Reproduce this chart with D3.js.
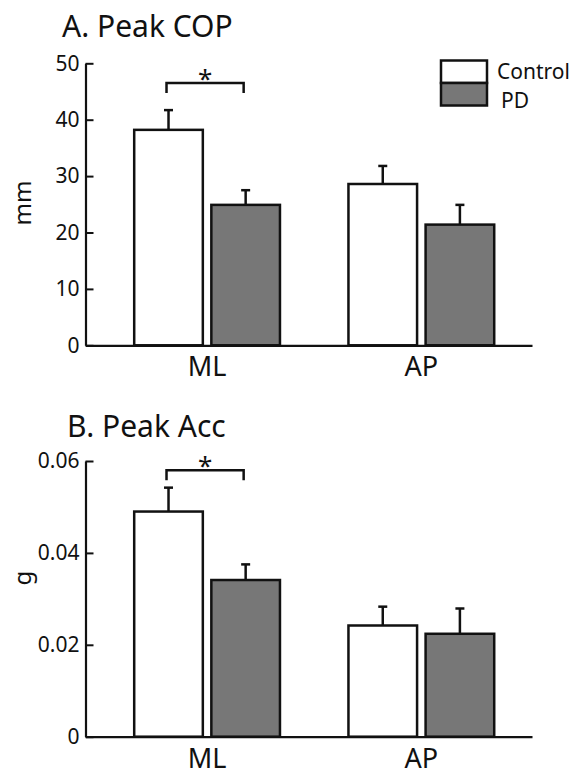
<!DOCTYPE html>
<html>
<head>
<meta charset="utf-8">
<script src="https://cdn.jsdelivr.net/npm/d3@7"></script>
<style>
  body { margin: 0; background: #fff; }
  svg { display: block; font-family: "Noto Sans", "Open Sans", sans-serif; }
</style>
</head>
<body>
<div id="chart"></div>
<script>
// categories and series
var groups = ["ML", "AP"];
var seriesNames = ["Control", "PD"];

// A. Peak COP (mm)
var copControl = [38.2, 28.6];
var copControlErr = [3.5, 3.2];
var copPD = [24.9, 21.4];
var copPDErr = [2.6, 3.5];
var copTicks = [0, 10, 20, 30, 40, 50];

// B. Peak Acc (g)
var accControl = [0.049, 0.0242];
var accControlErr = [0.0052, 0.0041];
var accPD = [0.0341, 0.0224];
var accPDErr = [0.0034, 0.0055];
var accTicks = [0, 0.02, 0.04, 0.06];

// significance bracket height (data units) for ML comparison
var sigLevels = [46.5, 0.058];

var svgWidth = 582;
var svgHeight = 775;
var axisX = 85.5;
var axisRight = 532;
var grey = "#777777";
var fills = { Control: "#ffffff", PD: grey };

var svg = d3.select("#chart")
  .append("svg")
  .attr("width", svgWidth)
  .attr("height", svgHeight);

// shared x scales
var x0 = d3.scaleBand()
  .domain(groups)
  .range([axisX, axisRight])
  .paddingInner(0.308)
  .paddingOuter(0.196)
  .align(0.565);

var x1 = d3.scaleBand()
  .domain(seriesNames)
  .range([0, x0.bandwidth()])
  .paddingInner(0.078);

function drawPanel(cfg) {
  var g = svg.append("g");

  var y = d3.scaleLinear()
    .domain([0, cfg.ticks[cfg.ticks.length - 1]])
    .range(cfg.yRange);

  var rows = [];
  groups.forEach(function(grp, i) {
    rows.push({ group: grp, series: "Control", value: cfg.control[i], err: cfg.controlErr[i] });
    rows.push({ group: grp, series: "PD", value: cfg.pd[i], err: cfg.pdErr[i] });
  });

  // title
  g.append("text")
    .attr("x", cfg.titleX)
    .attr("y", cfg.titleY)
    .attr("font-size", "30px")
    .attr("fill", "#111")
    .text(cfg.title);

  // error bars (drawn first, bars cover the lower part)
  var eb = g.append("g")
    .attr("stroke", "#111")
    .attr("stroke-width", 2.5);

  rows.forEach(function(d) {
    var cx = x0(d.group) + x1(d.series) + x1.bandwidth() / 2;
    eb.append("line")
      .attr("x1", cx).attr("x2", cx)
      .attr("y1", y(d.value)).attr("y2", y(d.value + d.err));
    eb.append("line")
      .attr("x1", cx - 4.5).attr("x2", cx + 4.5)
      .attr("y1", y(d.value + d.err)).attr("y2", y(d.value + d.err));
  });

  // bars
  g.append("g")
    .selectAll("rect")
    .data(rows)
    .enter()
    .append("rect")
    .attr("x", d => x0(d.group) + x1(d.series) + 1.25)
    .attr("width", x1.bandwidth() - 2.5)
    .attr("y", d => y(d.value))
    .attr("height", d => y(0) - y(d.value))
    .attr("fill", d => fills[d.series])
    .attr("stroke", "#111")
    .attr("stroke-width", 2.5);

  // y axis
  var leftAxis = d3.axisLeft(y)
    .tickValues(cfg.ticks)
    .tickFormat(cfg.format)
    .tickSizeInner(-8)
    .tickSizeOuter(0)
    .tickPadding(6);

  var ya = g.append("g")
    .attr("transform", `translate(${axisX}, 0)`)
    .call(leftAxis);
  ya.select(".domain").attr("stroke", "#111").attr("stroke-width", 2.2);
  ya.selectAll(".tick line").attr("stroke", "#111").attr("stroke-width", 2);
  ya.selectAll("text")
    .attr("font-size", "21px")
    .attr("font-family", "'Noto Sans', 'Open Sans', sans-serif")
    .attr("fill", "#111");

  // x axis
  var bottomAxis = d3.axisBottom(x0)
    .tickSize(0)
    .tickPadding(12);

  var xa = g.append("g")
    .attr("transform", `translate(0, ${y(0)})`)
    .call(bottomAxis);
  xa.select(".domain").attr("stroke", "#111").attr("stroke-width", 2.2);
  xa.selectAll("text")
    .attr("font-size", "27px")
    .attr("font-family", "'Noto Sans', 'Open Sans', sans-serif")
    .attr("fill", "#111");

  // y label
  g.append("text")
    .attr("transform", `translate(31, ${cfg.yLabelY}) rotate(-90)`)
    .attr("text-anchor", "middle")
    .attr("font-size", "24px")
    .attr("fill", "#111")
    .text(cfg.yLabel);

  // significance bracket on ML
  var left = x0("ML") + x1("Control") + x1.bandwidth() / 2 - 2;
  var right = x0("ML") + x1("PD") + x1.bandwidth() / 2 - 2;
  var top = y(cfg.sig);
  g.append("path")
    .attr("d", `M${left},${top + 10}V${top}H${right}V${top + 10}`)
    .attr("fill", "none")
    .attr("stroke", "#111")
    .attr("stroke-width", 2.5);
  g.append("text")
    .attr("x", (left + right) / 2)
    .attr("y", top + 5)
    .attr("text-anchor", "middle")
    .attr("font-size", "26px")
    .attr("fill", "#111")
    .text("*");
}

drawPanel({
  title: "A. Peak COP",
  titleX: 62, titleY: 37,
  yRange: [345.3, 63.3],
  ticks: copTicks,
  format: d3.format("d"),
  control: copControl, controlErr: copControlErr,
  pd: copPD, pdErr: copPDErr,
  yLabel: "mm", yLabelY: 203,
  sig: sigLevels[0]
});

drawPanel({
  title: "B. Peak Acc",
  titleX: 67, titleY: 437,
  yRange: [736.7, 461],
  ticks: accTicks,
  format: d => d === 0 ? "0" : d3.format(".2f")(d),
  control: accControl, controlErr: accControlErr,
  pd: accPD, pdErr: accPDErr,
  yLabel: "g", yLabelY: 578,
  sig: sigLevels[1]
});

// legend
var legend = svg.append("g");
seriesNames.forEach(function(name, i) {
  legend.append("rect")
    .attr("x", 441)
    .attr("y", 60.5 + i * 22.5)
    .attr("width", 46)
    .attr("height", 22.5)
    .attr("fill", fills[name])
    .attr("stroke", "#111")
    .attr("stroke-width", 2.5);
  legend.append("text")
    .attr("x", i === 0 ? 497 : 501)
    .attr("y", 79 + i * 29)
    .attr("font-size", "21px")
    .attr("fill", "#111")
    .text(name);
});
</script>
</body>
</html>
